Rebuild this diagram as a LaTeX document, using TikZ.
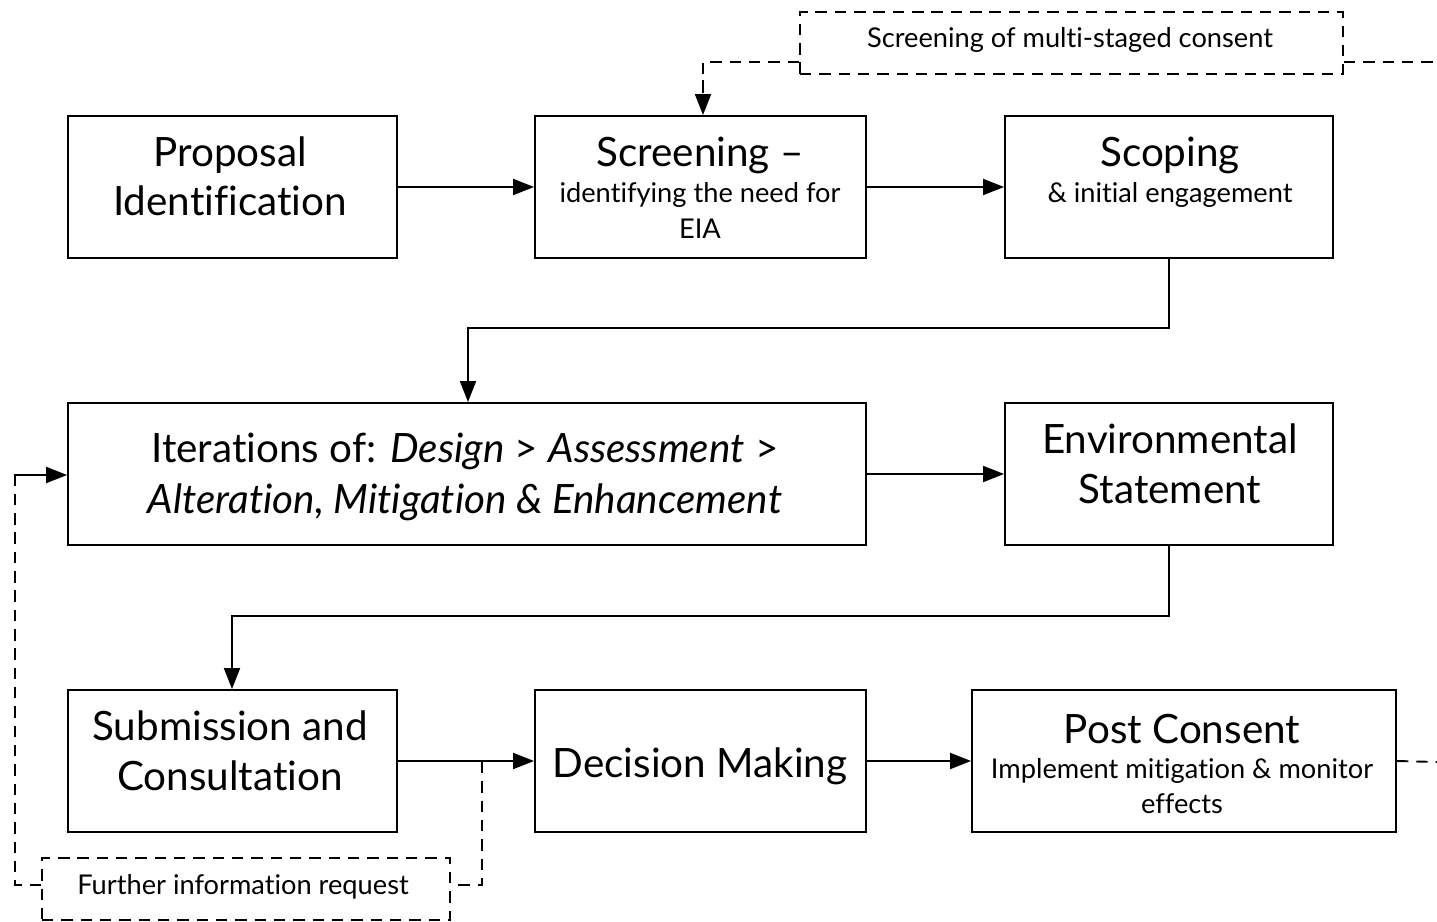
\documentclass[tikz,border=0pt]{standalone}
\usepackage{fontspec}
\setmainfont{Lato}[Ligatures={NoCommon}]
\usetikzlibrary{arrows.meta}
\tikzset{
  box/.style={draw, line width=1.1pt, inner sep=0pt},
  dbox/.style={draw, line width=1.1pt, dash pattern=on 6.5pt off 4.5pt, inner sep=0pt},
  flow/.style={line width=1.1pt, -{Triangle[length=0.42cm, width=0.32cm]}},
  dflow/.style={line width=1.1pt, dash pattern=on 6.5pt off 4.5pt},
  big/.style={anchor=base, inner sep=0pt, font=\fontsize{23}{27}\selectfont},
  small/.style={anchor=base, inner sep=0pt, font=\fontsize{15.5}{18}\selectfont},
}
\begin{document}
\begin{tikzpicture}[x=0.02cm,y=-0.02cm]
\useasboundingbox (0,0) rectangle (1437,922);
% boxes
\node[box, minimum width=6.58cm, minimum height=2.84cm] (prop) at (232.5,187) {};
\node[box, minimum width=6.62cm, minimum height=2.84cm] (scr) at (700.5,187) {};
\node[box, minimum width=6.56cm, minimum height=2.84cm] (scop) at (1169,187) {};
\node[box, minimum width=15.96cm, minimum height=2.84cm] (iter) at (467,474) {};
\node[box, minimum width=6.56cm, minimum height=2.84cm] (es) at (1169,474) {};
\node[box, minimum width=6.58cm, minimum height=2.84cm] (sub) at (232.5,761) {};
\node[box, minimum width=6.62cm, minimum height=2.84cm] (dec) at (700.5,761) {};
\node[box, minimum width=8.48cm, minimum height=2.84cm] (post) at (1184,761) {};
\node[dbox, minimum width=10.86cm, minimum height=1.24cm] (msc) at (1071.5,43) {};
\node[dbox, minimum width=8.16cm, minimum height=1.24cm] (fir) at (246,889) {};
% texts
\node[big] (t1) at (230,167) {Proposal};
\node[big] (t2) at (230,216) {Identification};
\node[big] (t3) at (700,167) {Screening –};
\node[small] (t4) at (700,203) {identifying the need for};
\node[small] (t5) at (700,239) {EIA};
\node[big] (t6) at (1170,167) {Scoping};
\node[small] (t7) at (1170,203) {\& initial engagement};
\node[big] (t8) at (465,462) {Iterations of: \textit{Design} > \textit{Assessment} >};
\node[big] (t9) at (465,513) {\textit{Alteration, Mitigation \& Enhancement}};
\node[big] (t10) at (1170,453) {Environmental};
\node[big] (t11) at (1170,503) {Statement};
\node[big] (t12) at (230,740) {Submission and};
\node[big] (t13) at (230,790) {Consultation};
\node[big] (t14) at (700,777) {Decision Making};
\node[big] (t15) at (1182,743) {Post Consent};
\node[small] (t16) at (1182,778) {Implement mitigation \& monitor};
\node[small] (t17) at (1182,813) {effects};
\node[small] (t18) at (1070,48) {Screening of multi-staged consent};
\node[small] (t19) at (243,894) {Further information request};
% solid connectors
\draw[flow] (prop.east) -- (scr.west);
\draw[flow] (scr.east) -- (scop.west);
\draw[flow] (scop.south) |- (468,328) -- (iter.north -| 468,0);
\draw[flow] (iter.east) -- (iter.east -| es.west);
\draw[flow] (es.south) |- (232,616) -- (sub.north -| 232,0);
\draw[flow] (sub.east) -- (dec.west);
\draw[flow] (dec.east) -- (post.west);
% dashed connectors
\coordinate (ej) at (482,762);
\coordinate (rt) at (1437,62);
\coordinate (rb) at (1437,762);
\draw[dflow] (msc.west |- 0,62) -| (703,95);
\draw[flow, dash pattern=on 6.5pt off 4.5pt] (703,80) -- (scr.north -| 703,0);
\draw[dflow] (msc.east |- 0,62) -- (rt);
\draw[dflow] (post.east) -- (rb);
\draw[dflow] (ej) |- (fir.east |- 0,885);
\draw[dflow] (fir.west |- 0,885) -| (15,475) -- (50,475);
\draw[flow, dash pattern=on 6.5pt off 4.5pt] (15,475) -- (iter.west |- 0,475);
\end{tikzpicture}
\end{document}
